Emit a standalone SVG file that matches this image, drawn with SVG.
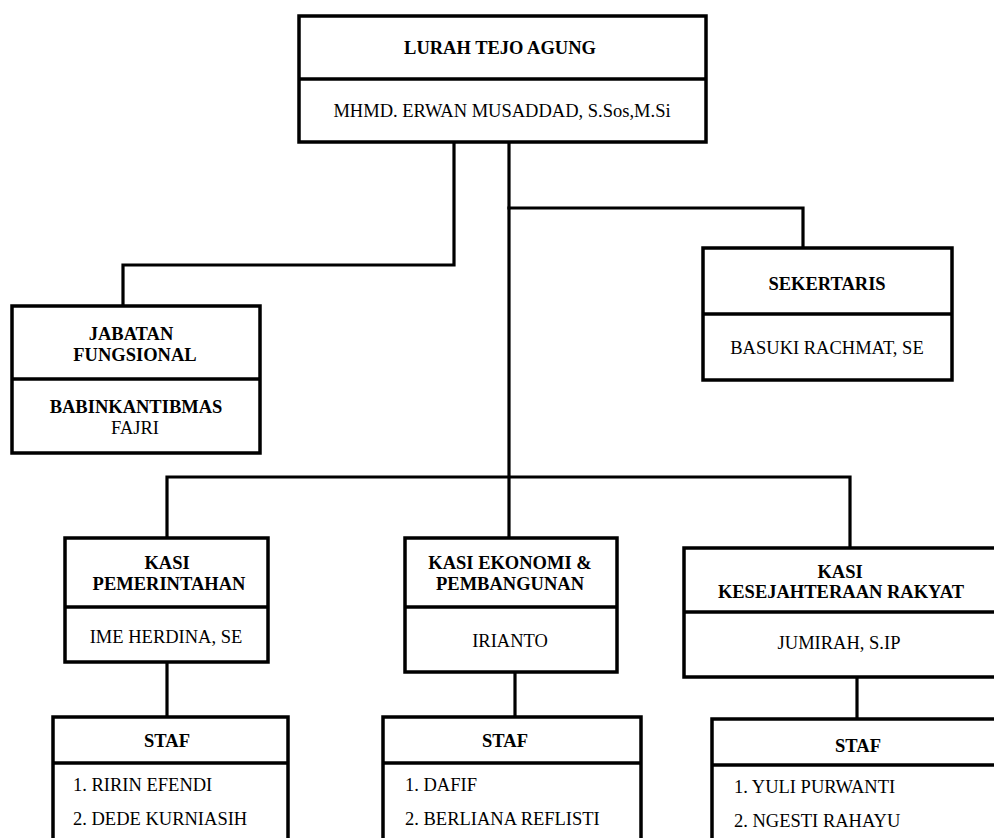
<svg xmlns="http://www.w3.org/2000/svg" width="994" height="838" viewBox="0 0 994 838">
<style>
.box{fill:#fff;stroke:#000;stroke-width:3.5}
.div{stroke:#000;stroke-width:3.5}
.con{fill:none;stroke:#000;stroke-width:3.2;stroke-linejoin:miter;stroke-linecap:square}
text{font-family:"Liberation Serif","Times New Roman",serif;font-size:18.5px;fill:#000}
.b{font-weight:bold}
.c{text-anchor:middle}
</style>
<rect width="994" height="838" fill="#fff"/>
<g id="connectors">
<path class="con" d="M454,142 V265 H123 V306"/>
<path class="con" d="M509,142 V538"/>
<path class="con" d="M509,208 H803 V248"/>
<path class="con" d="M167,538 V477 H850 V548"/>
<path class="con" d="M167,662 V717"/>
<path class="con" d="M515,672 V717"/>
<path class="con" d="M857,677 V719"/>
</g>
<g id="lurah">
<rect class="box" x="299" y="16" width="407" height="126"/>
<line class="div" x1="299" y1="79" x2="706" y2="79"/>
<text class="b c" x="500" y="54">LURAH TEJO AGUNG</text>
<text class="c" x="502" y="117">MHMD. ERWAN MUSADDAD, S.Sos,M.Si</text>
</g>
<g id="jabatan">
<rect class="box" x="12" y="306" width="248" height="147"/>
<line class="div" x1="12" y1="379" x2="260" y2="379"/>
<text class="b c" x="131" y="340">JABATAN</text>
<text class="b c" x="135" y="361">FUNGSIONAL</text>
<text class="b c" x="136" y="413">BABINKANTIBMAS</text>
<text class="c" x="135" y="434">FAJRI</text>
</g>
<g id="sekertaris">
<rect class="box" x="703" y="248" width="249" height="132"/>
<line class="div" x1="703" y1="314" x2="952" y2="314"/>
<text class="b c" x="827" y="290">SEKERTARIS</text>
<text class="c" x="827" y="354">BASUKI RACHMAT, SE</text>
</g>
<g id="kasi-pemerintahan">
<rect class="box" x="65" y="538" width="203" height="124"/>
<line class="div" x1="65" y1="607" x2="268" y2="607"/>
<text class="b c" x="167" y="569">KASI</text>
<text class="b c" x="169" y="590">PEMERINTAHAN</text>
<text class="c" x="166" y="643">IME HERDINA, SE</text>
</g>
<g id="kasi-ekonomi">
<rect class="box" x="405" y="538" width="212" height="134"/>
<line class="div" x1="405" y1="607" x2="617" y2="607"/>
<text class="b c" x="510" y="569">KASI EKONOMI &amp;</text>
<text class="b c" x="510" y="590">PEMBANGUNAN</text>
<text class="c" x="510" y="647">IRIANTO</text>
</g>
<g id="kasi-kesra">
<rect class="box" x="684" y="548" width="316" height="129"/>
<line class="div" x1="684" y1="612" x2="1000" y2="612"/>
<text class="b c" x="840" y="578">KASI</text>
<text class="b c" x="841" y="598">KESEJAHTERAAN RAKYAT</text>
<text class="c" x="839" y="649">JUMIRAH, S.IP</text>
</g>
<g id="staf-pemerintahan">
<rect class="box" x="53" y="717" width="235" height="140"/>
<line class="div" x1="53" y1="763" x2="288" y2="763"/>
<text class="b c" x="167" y="747">STAF</text>
<text x="73" y="791">1. RIRIN EFENDI</text>
<text x="73" y="825">2. DEDE KURNIASIH</text>
</g>
<g id="staf-ekonomi">
<rect class="box" x="383" y="717" width="258" height="140"/>
<line class="div" x1="383" y1="763" x2="641" y2="763"/>
<text class="b c" x="505" y="747">STAF</text>
<text x="405" y="791">1. DAFIF</text>
<text x="405" y="825">2. BERLIANA REFLISTI</text>
</g>
<g id="staf-kesra">
<rect class="box" x="712" y="719" width="300" height="140"/>
<line class="div" x1="712" y1="765" x2="1012" y2="765"/>
<text class="b c" x="858" y="752">STAF</text>
<text x="734" y="793">1. YULI PURWANTI</text>
<text x="734" y="827">2. NGESTI RAHAYU</text>
</g>
</svg>
